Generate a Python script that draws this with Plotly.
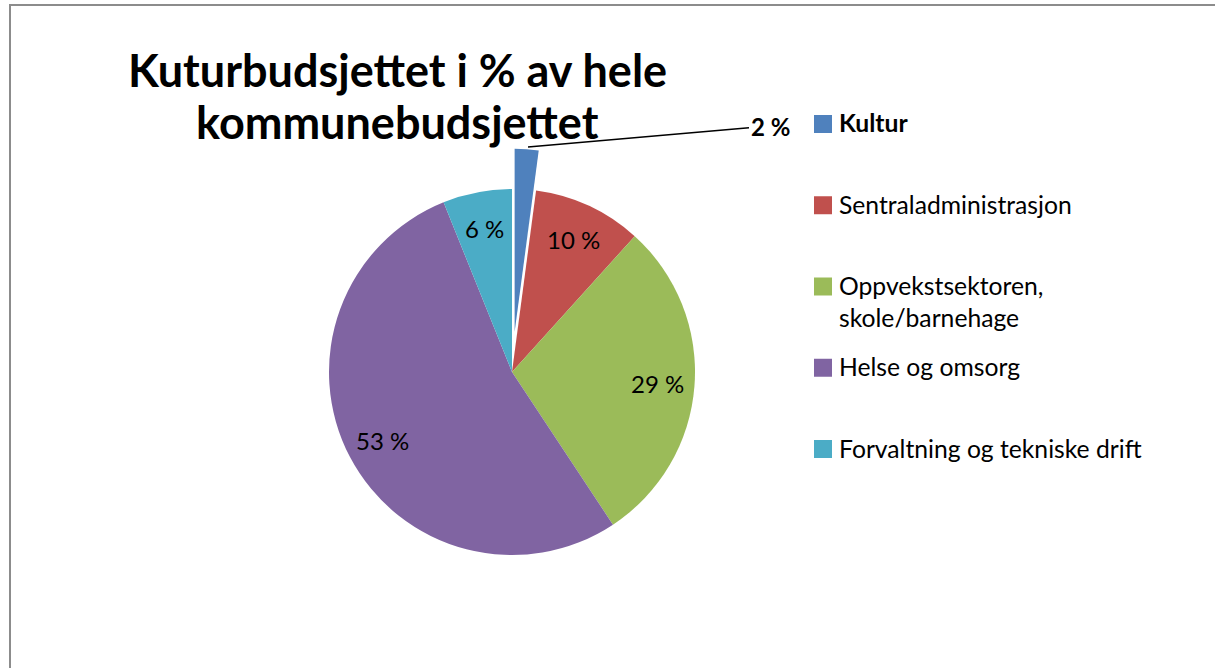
import math
import plotly.graph_objects as go

# ---- data ----
categories = ["Kultur", "Sentraladministrasjon", "Oppvekstsektoren, skole/barnehage",
              "Helse og omsorg", "Forvaltning og tekniske drift"]
legend_labels = ["Kultur", "Sentraladministrasjon", "Oppvekstsektoren,<br>skole/barnehage",
                 "Helse og omsorg", "Forvaltning og tekniske drift"]
values = [2.1, 9.6, 29.0, 53.2, 6.1]
pct_labels = ["2 %", "10 %", "29 %", "53 %", "6 %"]
colors = ["#4F81BD", "#C0504D", "#9BBB59", "#8064A2", "#4BACC6"]
pulls = [0.22, 0, 0, 0, 0]
title_lines = ["Kuturbudsjettet i % av hele", "kommunebudsjettet"]

W, H = 1215, 668
FONT = "Lato"
FS = 24
LEG_FS = 24.7


def px(x):
    return x / W


def py(y):
    return 1 - y / H


# pie geometry (layout)
cx, cy, r = 512, 372, 183
box = 2 * r * (1 + max(pulls))

fig = go.Figure()
fig.add_trace(go.Pie(
    labels=categories,
    values=values,
    textinfo="none",
    marker=dict(colors=colors, line=dict(width=0)),
    pull=pulls,
    sort=False,
    direction="clockwise",
    rotation=0,
    showlegend=False,
    hoverinfo="label+percent",
    domain=dict(x=[px(cx - box / 2), px(cx + box / 2)],
                y=[py(cy + box / 2), py(cy - box / 2)]),
))

annotations = []
shapes = []

# data labels placed at 0.8 of the radius along each slice's mid angle
total = sum(values)
cum = 0.0
for i, (v, t) in enumerate(zip(values, pct_labels)):
    mid = (cum + v / 2) / total * 2 * math.pi
    cum += v
    if i == 0:
        continue
    lx = cx + 0.8 * r * math.sin(mid)
    ly = cy - 0.8 * r * math.cos(mid)
    annotations.append(dict(
        text=t, x=px(lx), y=py(ly), xref="paper", yref="paper",
        xanchor="center", yanchor="middle", showarrow=False,
        font=dict(family=FONT, size=FS, color="black"),
    ))

# title (two lines)
for k, (line, yc) in enumerate(zip(title_lines, [70, 122])):
    annotations.append(dict(
        text="<b>" + line + "</b>", x=px(397), y=py(yc), xref="paper", yref="paper",
        xanchor="center", yanchor="middle", showarrow=False,
        font=dict(family=FONT, size=45, color="black"),
    ))

# Kultur label with leader line
annotations.append(dict(
    text="<b>" + pct_labels[0] + "</b>", x=px(528), y=py(147), xref="paper", yref="paper",
    ax=770 - 528, ay=126 - 147, axref="pixel", ayref="pixel",
    showarrow=True, arrowhead=0, arrowwidth=1.5, arrowcolor="black",
    font=dict(family=FONT, size=FS, color="black"),
))

# legend (manual, equally spaced markers, text aligned to first line)
leg_x0, leg_y0, leg_dy, sq = 814, 124, 81.25, 18
for i, (lab, col) in enumerate(zip(legend_labels, colors)):
    yc = leg_y0 + i * leg_dy
    shapes.append(dict(type="rect", xref="paper", yref="paper",
                       x0=px(leg_x0), x1=px(leg_x0 + sq),
                       y0=py(yc - sq / 2), y1=py(yc + sq / 2),
                       fillcolor=col, line=dict(width=0)))
    txt = "<b>" + lab + "</b>" if i == 0 else lab
    annotations.append(dict(
        text=txt, x=px(leg_x0 + sq + 5), y=py(yc - 17.5), xref="paper", yref="paper",
        xanchor="left", yanchor="top", showarrow=False, align="left",
        font=dict(family=FONT, size=LEG_FS, color="black"),
    ))

# chart border
shapes.append(dict(type="rect", xref="paper", yref="paper",
                   x0=px(10), x1=px(W + 20), y0=py(H + 20), y1=py(5),
                   line=dict(color="#8C8C8C", width=2), fillcolor="rgba(0,0,0,0)"))

fig.update_layout(
    width=W, height=H,
    margin=dict(l=0, r=0, t=0, b=0),
    paper_bgcolor="white", plot_bgcolor="white",
    annotations=annotations, shapes=shapes,
    font=dict(family=FONT),
)

fig.write_html("out.html", config={"displayModeBar": False},
               post_script="document.body.style.margin='0';document.body.style.overflow='hidden';")
